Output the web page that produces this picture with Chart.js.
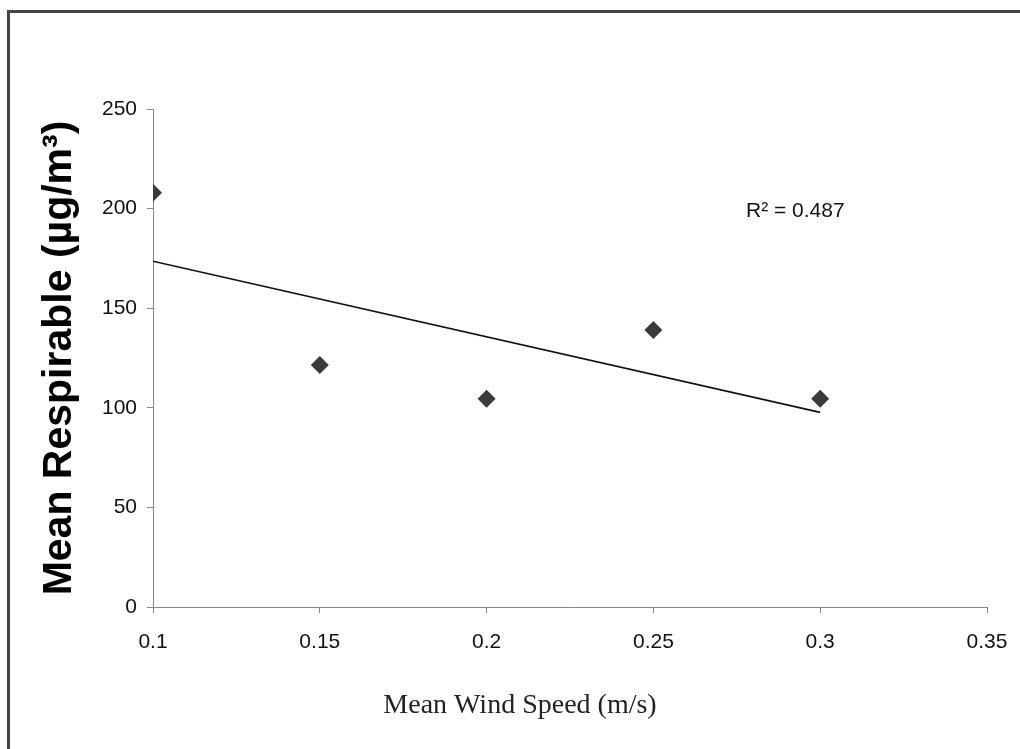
<!DOCTYPE html>
<html>
<head>
<meta charset="utf-8">
<script src="https://cdn.jsdelivr.net/npm/chart.js@4.4.1/dist/chart.umd.min.js"></script>
<style>
  html, body { margin: 0; padding: 0; background: #fff; }
  #wrap { position: relative; width: 1020px; height: 749px; overflow: hidden; }
  #frame {
    position: absolute; left: 7px; top: 10px; right: -10px; bottom: -10px;
    border-left: 3px solid #444; border-top: 3px solid #444;
  }
  canvas { position: absolute; left: 0; top: 0; }
</style>
</head>
<body>
<div id="wrap">
  <div id="frame"></div>
  <canvas id="scatterChart" width="1020" height="749"></canvas>
</div>
<script>
// wind speed vs respirable dust
const windSpeed = [0.1, 0.15, 0.2, 0.25, 0.3];
const respirable = [208, 121.5, 104.5, 139, 104.5];

// linear trendline end points as drawn in the original
const trendX = [0.1, 0.3];
const trendY = [173.6, 97.7];

const xTicks = [0.1, 0.15, 0.2, 0.25, 0.3, 0.35];
const yTicks = [0, 50, 100, 150, 200, 250];

const rSquaredLabel = "R² = 0.487";
const xTitle = "Mean Wind Speed (m/s)";
const yTitle = "Mean Respirable (µg/m³)";

// draws the R² note and the x axis caption
const extraText = {
  id: "extraText",
  afterDraw(chart) {
    const ctx = chart.ctx;
    ctx.save();
    ctx.fillStyle = "#111";
    ctx.textAlign = "left";
    ctx.textBaseline = "middle";
    ctx.font = "21px 'Liberation Sans', Arial, sans-serif";
    ctx.fillText(rSquaredLabel, 746, 211);

    ctx.fillStyle = "#222";
    ctx.textAlign = "center";
    ctx.font = "28px 'Liberation Serif', 'Times New Roman', serif";
    ctx.fillText(xTitle, 520, 706);
    ctx.restore();
  }
};

const ctx = document.getElementById("scatterChart").getContext("2d");

new Chart(ctx, {
  type: "scatter",
  data: {
    datasets: [
      {
        label: "Respirable",
        data: windSpeed.map((x, i) => ({ x: x, y: respirable[i] })),
        pointStyle: "rectRot",
        pointRadius: 9,
        pointHoverRadius: 9,
        backgroundColor: "#3a3a3a",
        borderColor: "#3a3a3a",
        borderWidth: 0,
        order: 1
      },
      {
        label: "Linear",
        type: "line",
        data: trendX.map((x, i) => ({ x: x, y: trendY[i] })),
        borderColor: "#111",
        borderWidth: 1.6,
        pointRadius: 0,
        fill: false,
        order: 2
      }
    ]
  },
  options: {
    responsive: false,
    animation: false,
    devicePixelRatio: 1,
    layout: { padding: { left: 0, top: 109, right: 33, bottom: 0 } },
    plugins: {
      legend: { display: false },
      tooltip: { enabled: false }
    },
    scales: {
      x: {
        type: "linear",
        min: 0.1,
        max: 0.35,
        afterBuildTicks: s => { s.ticks = xTicks.map(v => ({ value: v })); },
        afterFit: s => { s.height = 142; s.paddingLeft = 0; s.paddingRight = 0; },
        grid: { drawOnChartArea: false, drawTicks: true, tickLength: 6, color: "#888" },
        border: { display: true, color: "#888", width: 1 },
        ticks: {
          color: "#111",
          padding: 17,
          maxRotation: 0,
          font: { family: "'Liberation Sans', Arial, sans-serif", size: 21 },
          callback: v => String(v)
        }
      },
      y: {
        type: "linear",
        min: 0,
        max: 250,
        afterBuildTicks: s => { s.ticks = yTicks.map(v => ({ value: v })); },
        afterFit: s => { s.width = 153; s.paddingTop = 0; s.paddingBottom = 0; },
        grid: { drawOnChartArea: false, drawTicks: true, tickLength: 6, color: "#888" },
        border: { display: true, color: "#888", width: 1 },
        ticks: {
          color: "#111",
          padding: 10,
          font: { family: "'Liberation Sans', Arial, sans-serif", size: 21 },
          callback: v => String(v)
        },
        title: {
          display: true,
          text: yTitle,
          color: "#000",
          padding: { top: 35, bottom: 0 },
          font: { family: "'Liberation Sans', Arial, sans-serif", size: 41, weight: "bold" }
        }
      }
    }
  },
  plugins: [extraText]
});
</script>
</body>
</html>
